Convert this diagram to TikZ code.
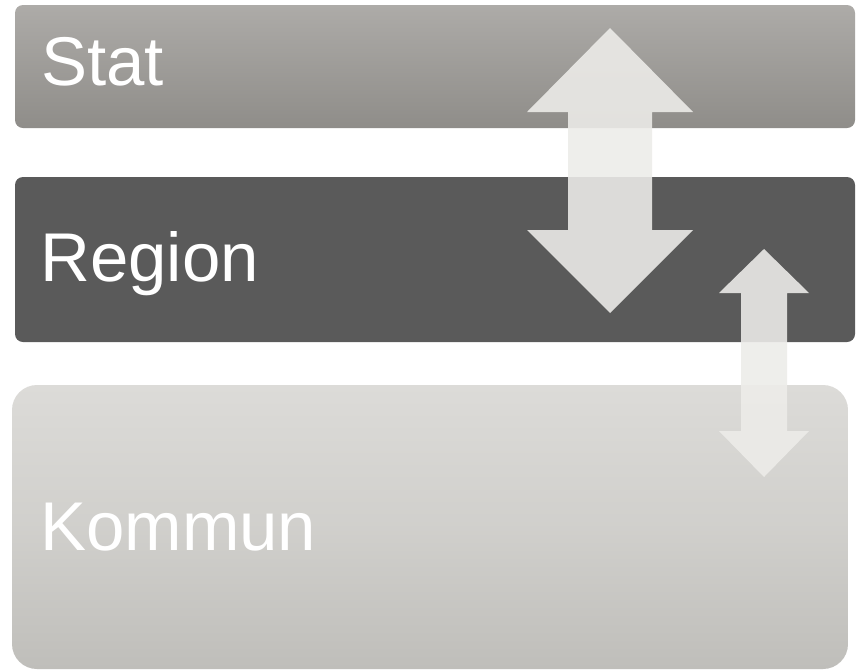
\documentclass[tikz,border=0pt]{standalone}
\usepackage{fontspec}
\setmainfont{Liberation Sans}
\definecolor{statTop}{RGB}{173,171,168}
\definecolor{statBot}{RGB}{143,141,137}
\definecolor{regionc}{RGB}{90,90,90}
\definecolor{kommTop}{RGB}{220,219,216}
\definecolor{kommBot}{RGB}{191,190,186}
\definecolor{arrowc}{RGB}{237,236,233}
\begin{document}
\begin{tikzpicture}[x=1pt,y=-1pt,
  box/.style={rounded corners=8pt, inner sep=0pt, outer sep=0pt, anchor=north west, draw=none},
  lbl/.style={text=white, font=\fontsize{69}{82}\selectfont, anchor=base west, inner sep=0pt},
  arr/.style={fill=arrowc, fill opacity=0.89, draw=none}]
\useasboundingbox (0,0) rectangle (856,670);
\fill[white] (0,0) rectangle (856,670);
\node[box, minimum width=840pt, minimum height=123pt, top color=statTop, bottom color=statBot] (stat) at (15,5) {};
\node[box, minimum width=840pt, minimum height=165pt, fill=regionc] (region) at (15,177) {};
\node[box, rounded corners=25pt, minimum width=836pt, minimum height=284pt, top color=kommTop, bottom color=kommBot, middle color=kommTop!60!kommBot] (kommun) at (12,385) {};
\node[lbl] (tstat) at (41,85) {Stat};
\node[lbl] (tregion) at (40,281) {Region};
\node[lbl] (tkommun) at (40,550) {Kommun};
% big double arrow
\fill[arr] (610,28) -- (693,112) -- (652,112) -- (652,230) -- (693,230) -- (610,313)
  -- (527,230) -- (568,230) -- (568,112) -- (527,112) -- cycle;
% small double arrow
\fill[arr] (764,249) -- (809,293) -- (787,293) -- (787,431) -- (809,431) -- (764,477)
  -- (719,431) -- (741,431) -- (741,293) -- (719,293) -- cycle;
\end{tikzpicture}
\end{document}
